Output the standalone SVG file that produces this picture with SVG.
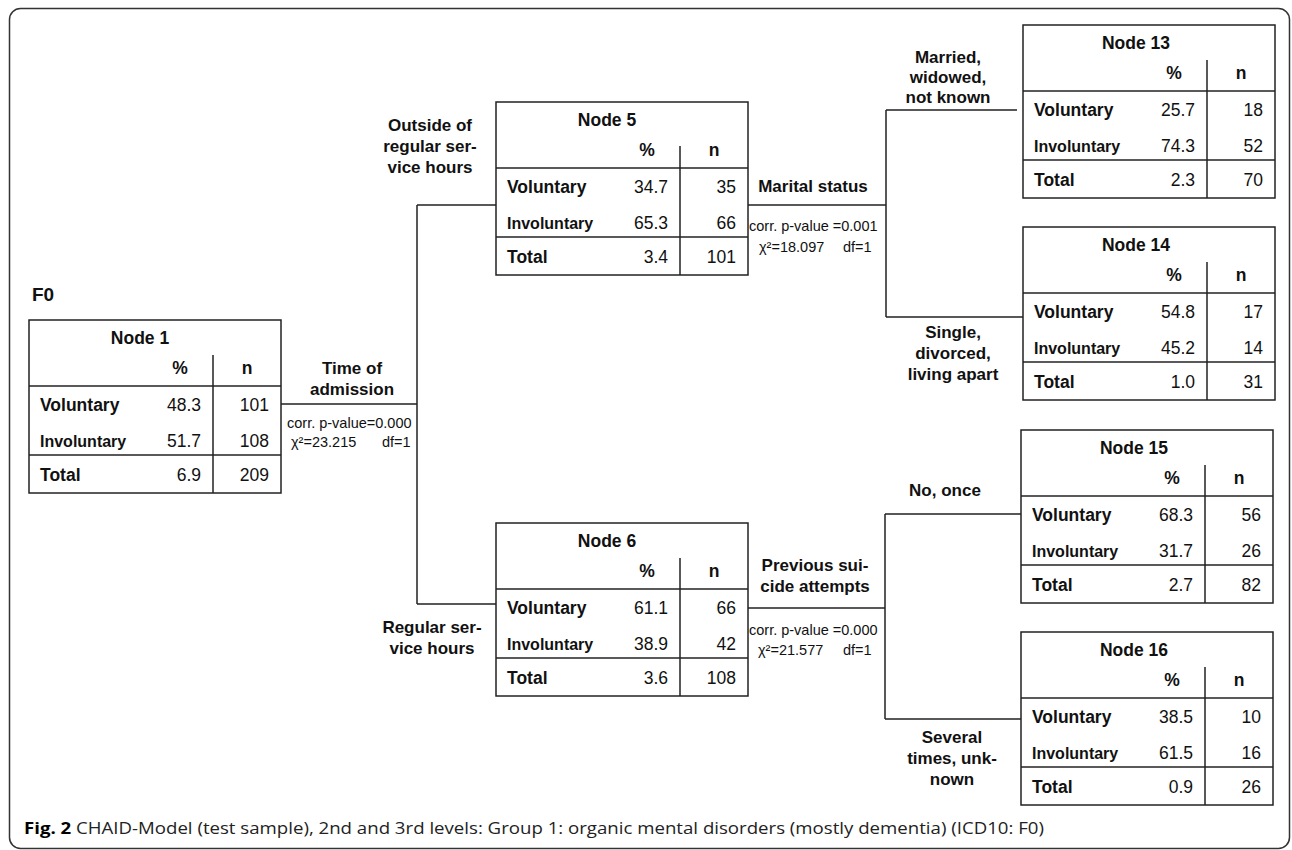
<svg xmlns="http://www.w3.org/2000/svg" width="1292" height="850" viewBox="0 0 1292 850">
  <style>
    .frame { fill: none; stroke: #333; stroke-width: 1.5; }
    .box { fill: none; stroke: #222; stroke-width: 1.5; }
    .rule { stroke: #222; stroke-width: 1.5; }
    .wire { fill: none; stroke: #222; stroke-width: 1.5; }
    text { font-family: "Liberation Sans", Arial, Helvetica, sans-serif; fill: #111; }
    .hd { font-size: 17.5px; font-weight: bold; text-anchor: middle; }
    .vol { font-size: 17.5px; font-weight: bold; }
    .inv { font-size: 16px; font-weight: bold; }
    .tot { font-size: 17.5px; font-weight: bold; }
    .num { font-size: 17.5px; text-anchor: end; }
    .br { font-size: 17px; font-weight: bold; text-anchor: middle; }
    .st { font-size: 14.5px; }
    .cap { font-family: "Open Sans", "Liberation Sans", sans-serif; font-size: 15.5px; fill: #222; }
  </style>
  <defs>
    <!-- shared table skeleton: 252 x 173 box with header, total and column rules -->
    <g id="grid">
      <rect class="box" x="0" y="0" width="252" height="173"/>
      <line class="rule" x1="0" y1="66" x2="252" y2="66"/>
      <line class="rule" x1="0" y1="135" x2="252" y2="135"/>
    </g>
  </defs>

  <!-- outer frame -->
  <rect class="frame" x="9.5" y="8.5" width="1280" height="840" rx="11"/>

  <text x="32" y="301" style="font-size:19px;font-weight:bold">F0</text>

  <!-- connectors -->
  <g id="connectors">
    <path class="wire" d="M281 404 H417 M417 205 V604 M417 205 H496 M417 604 H496"/>
    <path class="wire" d="M748 205 H886 M886 110 V317 M886 110 H1017 M886 317 H1023"/>
    <path class="wire" d="M748 608 H885 M885 514 V719 M885 514 H1021 M885 719 H1021"/>
  </g>

  <!-- split labels -->
  <g id="split-labels">
    <text class="br" x="352" y="374">Time of</text>
    <text class="br" x="352" y="395">admission</text>
    <text class="st" x="287" y="428">corr. p-value=0.000</text>
    <text class="st" x="291" y="447">χ²=23.215</text>
    <text class="st" x="382" y="447">df=1</text>

    <text class="br" x="430" y="131">Outside of</text>
    <text class="br" x="430" y="152">regular ser-</text>
    <text class="br" x="430" y="173">vice hours</text>

    <text class="br" x="432" y="633">Regular ser-</text>
    <text class="br" x="432" y="654">vice hours</text>

    <text class="br" x="813" y="192">Marital status</text>
    <text class="st" x="749" y="231">corr. p-value =0.001</text>
    <text class="st" x="759" y="252">χ²=18.097</text>
    <text class="st" x="843" y="252">df=1</text>

    <text class="br" x="815" y="571">Previous sui-</text>
    <text class="br" x="815" y="592">cide attempts</text>
    <text class="st" x="749" y="635">corr. p-value =0.000</text>
    <text class="st" x="758" y="655">χ²=21.577</text>
    <text class="st" x="843" y="655">df=1</text>

    <text class="br" x="948" y="63">Married,</text>
    <text class="br" x="948" y="83">widowed,</text>
    <text class="br" x="948" y="103">not known</text>

    <text class="br" x="953" y="338">Single,</text>
    <text class="br" x="953" y="359">divorced,</text>
    <text class="br" x="953" y="380">living apart</text>

    <text class="br" x="945" y="496">No, once</text>

    <text class="br" x="952" y="743">Several</text>
    <text class="br" x="952" y="764">times, unk-</text>
    <text class="br" x="952" y="785">nown</text>
  </g>

  <!-- Node 1 -->
  <g id="node1" transform="translate(29,320)">
    <use href="#grid"/>
    <line class="rule" x1="184" y1="35" x2="184" y2="173"/>
    <text class="hd" x="111" y="24">Node 1</text>
    <text class="hd" x="151" y="54">%</text>
    <text class="hd" x="218" y="54">n</text>
    <text class="vol" x="11" y="91">Voluntary</text>
    <text class="num" x="172" y="91">48.3</text>
    <text class="num" x="240" y="91">101</text>
    <text class="inv" x="11" y="127">Involuntary</text>
    <text class="num" x="172" y="127">51.7</text>
    <text class="num" x="240" y="127">108</text>
    <text class="tot" x="11" y="161">Total</text>
    <text class="num" x="172" y="161">6.9</text>
    <text class="num" x="240" y="161">209</text>
  </g>

  <!-- Node 5 -->
  <g id="node5" transform="translate(496,102)">
    <use href="#grid"/>
    <line class="rule" x1="184" y1="44" x2="184" y2="173"/>
    <text class="hd" x="111" y="24">Node 5</text>
    <text class="hd" x="151" y="54">%</text>
    <text class="hd" x="218" y="54">n</text>
    <text class="vol" x="11" y="91">Voluntary</text>
    <text class="num" x="172" y="91">34.7</text>
    <text class="num" x="240" y="91">35</text>
    <text class="inv" x="11" y="127">Involuntary</text>
    <text class="num" x="172" y="127">65.3</text>
    <text class="num" x="240" y="127">66</text>
    <text class="tot" x="11" y="161">Total</text>
    <text class="num" x="172" y="161">3.4</text>
    <text class="num" x="240" y="161">101</text>
  </g>

  <!-- Node 6 -->
  <g id="node6" transform="translate(496,523)">
    <use href="#grid"/>
    <line class="rule" x1="184" y1="35" x2="184" y2="173"/>
    <text class="hd" x="111" y="24">Node 6</text>
    <text class="hd" x="151" y="54">%</text>
    <text class="hd" x="218" y="54">n</text>
    <text class="vol" x="11" y="91">Voluntary</text>
    <text class="num" x="172" y="91">61.1</text>
    <text class="num" x="240" y="91">66</text>
    <text class="inv" x="11" y="127">Involuntary</text>
    <text class="num" x="172" y="127">38.9</text>
    <text class="num" x="240" y="127">42</text>
    <text class="tot" x="11" y="161">Total</text>
    <text class="num" x="172" y="161">3.6</text>
    <text class="num" x="240" y="161">108</text>
  </g>

  <!-- Node 13 -->
  <g id="node13" transform="translate(1023,25)">
    <use href="#grid"/>
    <line class="rule" x1="184" y1="35" x2="184" y2="173"/>
    <text class="hd" x="113" y="24">Node 13</text>
    <text class="hd" x="151" y="54">%</text>
    <text class="hd" x="218" y="54">n</text>
    <text class="vol" x="11" y="91">Voluntary</text>
    <text class="num" x="172" y="91">25.7</text>
    <text class="num" x="240" y="91">18</text>
    <text class="inv" x="11" y="127">Involuntary</text>
    <text class="num" x="172" y="127">74.3</text>
    <text class="num" x="240" y="127">52</text>
    <text class="tot" x="11" y="161">Total</text>
    <text class="num" x="172" y="161">2.3</text>
    <text class="num" x="240" y="161">70</text>
  </g>

  <!-- Node 14 -->
  <g id="node14" transform="translate(1023,227)">
    <use href="#grid"/>
    <line class="rule" x1="184" y1="35" x2="184" y2="173"/>
    <text class="hd" x="113" y="24">Node 14</text>
    <text class="hd" x="151" y="54">%</text>
    <text class="hd" x="218" y="54">n</text>
    <text class="vol" x="11" y="91">Voluntary</text>
    <text class="num" x="172" y="91">54.8</text>
    <text class="num" x="240" y="91">17</text>
    <text class="inv" x="11" y="127">Involuntary</text>
    <text class="num" x="172" y="127">45.2</text>
    <text class="num" x="240" y="127">14</text>
    <text class="tot" x="11" y="161">Total</text>
    <text class="num" x="172" y="161">1.0</text>
    <text class="num" x="240" y="161">31</text>
  </g>

  <!-- Node 15 -->
  <g id="node15" transform="translate(1021,430)">
    <use href="#grid"/>
    <line class="rule" x1="184" y1="35" x2="184" y2="173"/>
    <text class="hd" x="113" y="24">Node 15</text>
    <text class="hd" x="151" y="54">%</text>
    <text class="hd" x="218" y="54">n</text>
    <text class="vol" x="11" y="91">Voluntary</text>
    <text class="num" x="172" y="91">68.3</text>
    <text class="num" x="240" y="91">56</text>
    <text class="inv" x="11" y="127">Involuntary</text>
    <text class="num" x="172" y="127">31.7</text>
    <text class="num" x="240" y="127">26</text>
    <text class="tot" x="11" y="161">Total</text>
    <text class="num" x="172" y="161">2.7</text>
    <text class="num" x="240" y="161">82</text>
  </g>

  <!-- Node 16 -->
  <g id="node16" transform="translate(1021,632)">
    <use href="#grid"/>
    <line class="rule" x1="184" y1="35" x2="184" y2="173"/>
    <text class="hd" x="113" y="24">Node 16</text>
    <text class="hd" x="151" y="54">%</text>
    <text class="hd" x="218" y="54">n</text>
    <text class="vol" x="11" y="91">Voluntary</text>
    <text class="num" x="172" y="91">38.5</text>
    <text class="num" x="240" y="91">10</text>
    <text class="inv" x="11" y="127">Involuntary</text>
    <text class="num" x="172" y="127">61.5</text>
    <text class="num" x="240" y="127">16</text>
    <text class="tot" x="11" y="161">Total</text>
    <text class="num" x="172" y="161">0.9</text>
    <text class="num" x="240" y="161">26</text>
  </g>

  <!-- caption -->
  <text class="cap" x="24" y="834" textLength="1020" lengthAdjust="spacingAndGlyphs"><tspan font-weight="bold" fill="#000">Fig. 2</tspan> CHAID-Model (test sample), 2nd and 3rd levels: Group 1: organic mental disorders (mostly dementia) (ICD10: F0)</text>
</svg>
